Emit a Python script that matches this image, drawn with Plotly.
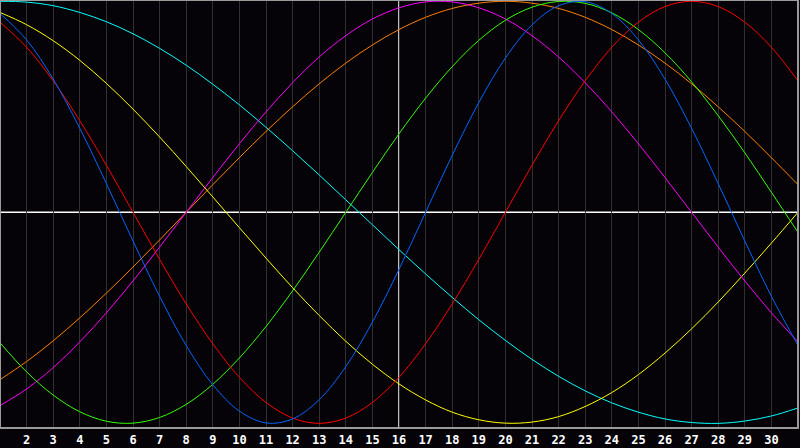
import plotly.graph_objects as go

days = list(range(1, 32))
tick_days = list(range(2, 31))
tick_labels = [str(d) for d in tick_days]

red = [0.901, 0.782, 0.623, 0.434, 0.223, 0.0, -0.223, -0.434, -0.623, -0.782, -0.901, -0.975, -1.0, -0.975,
       -0.901, -0.782, -0.623, -0.434, -0.223, 0.0, 0.223, 0.434, 0.623, 0.782, 0.901, 0.975, 1.0, 0.975, 0.901,
       0.782, 0.623]
blue = [0.942, 0.817, 0.631, 0.398, 0.136, -0.136, -0.398, -0.631, -0.817, -0.942, -0.998, -0.979, -0.888, -0.731,
        -0.520, -0.270, 0.0, 0.270, 0.520, 0.731, 0.888, 0.979, 0.998, 0.942, 0.817, 0.631, 0.398, 0.136, -0.136,
        -0.398, -0.631]
green = [-0.618, -0.756, -0.866, -0.945, -0.990, -0.999, -0.972, -0.910, -0.815, -0.690, -0.541, -0.372, -0.189,
         0.0, 0.189, 0.372, 0.541, 0.690, 0.815, 0.910, 0.972, 0.999, 0.990, 0.945, 0.866, 0.756, 0.618, 0.458,
         0.282, 0.095, -0.095]
magenta = [-0.916, -0.837, -0.736, -0.614, -0.476, -0.325, -0.165, 0.0, 0.165, 0.325, 0.476, 0.614, 0.736, 0.837,
           0.916, 0.969, 0.997, 0.997, 0.969, 0.916, 0.837, 0.736, 0.614, 0.476, 0.325, 0.165, 0.0, -0.165, -0.325,
           -0.476, -0.614]
yellow = [0.947, 0.889, 0.813, 0.720, 0.611, 0.489, 0.357, 0.217, 0.073, -0.073, -0.217, -0.357, -0.489, -0.611,
          -0.720, -0.813, -0.889, -0.947, -0.983, -0.999, -0.994, -0.968, -0.920, -0.854, -0.769, -0.667, -0.552,
          -0.425, -0.288, -0.146, 0.0]
orange = [-0.793, -0.707, -0.609, -0.500, -0.383, -0.259, -0.131, 0.0, 0.131, 0.259, 0.383, 0.500, 0.609, 0.707,
          0.793, 0.866, 0.924, 0.966, 0.991, 1.0, 0.991, 0.966, 0.924, 0.866, 0.793, 0.707, 0.609, 0.500, 0.383,
          0.259, 0.131]
cyan = [1.0, 0.996, 0.979, 0.947, 0.903, 0.846, 0.777, 0.697, 0.607, 0.509, 0.403, 0.292, 0.177, 0.059, -0.059,
        -0.177, -0.292, -0.403, -0.509, -0.607, -0.697, -0.777, -0.846, -0.903, -0.947, -0.979, -0.996, -1.0,
        -0.989, -0.965, -0.927]

series = [
    ("cyan", cyan, "#00ffff"),
    ("orange", orange, "#ff8000"),
    ("yellow", yellow, "#ffff00"),
    ("magenta", magenta, "#ff00ff"),
    ("green", green, "#33ff00"),
    ("red", red, "#ff0000"),
    ("blue", blue, "#0066ff"),
]

fig = go.Figure()
for name, vals, col in series:
    fig.add_trace(go.Scatter(x=days, y=vals, mode="lines", name=name,
                             line=dict(color=col, width=1, shape="spline", smoothing=1.0),
                             hoverinfo="skip"))

fig.add_shape(type="line", xref="x", yref="paper", x0=16, x1=16, y0=0, y1=1,
              line=dict(color="#ffffff", width=1.5), layer="below")
fig.add_shape(type="line", xref="paper", yref="y", x0=0, x1=1, y0=0, y1=0,
              line=dict(color="#ffffff", width=1.5), layer="below")
fig.add_shape(type="rect", xref="paper", yref="paper", x0=0, x1=1, y0=0, y1=1,
              line=dict(color="#9a9a9a", width=2), layer="above")

fig.update_layout(
    width=800, height=448,
    margin=dict(l=0, r=2, t=0, b=20),
    paper_bgcolor="#050308",
    plot_bgcolor="#050308",
    showlegend=False,
    xaxis=dict(range=[1, 31], tickmode="array", tickvals=tick_days, ticktext=tick_labels,
               showgrid=True, gridcolor="#303030", gridwidth=1, zeroline=False,
               ticks="", ticklabelstandoff=3,
               tickfont=dict(family="DejaVu Sans Mono", size=12, color="#ffffff", weight="bold")),
    yaxis=dict(range=[-1.022, 1.006], showgrid=False, zeroline=False, showticklabels=False, ticks=""),
    font=dict(family="DejaVu Sans Mono", color="#ffffff"),
)

fig.write_html("out.html", config={"displayModeBar": False},
               post_script="document.body.style.margin='0';document.body.style.background='#050308';")
